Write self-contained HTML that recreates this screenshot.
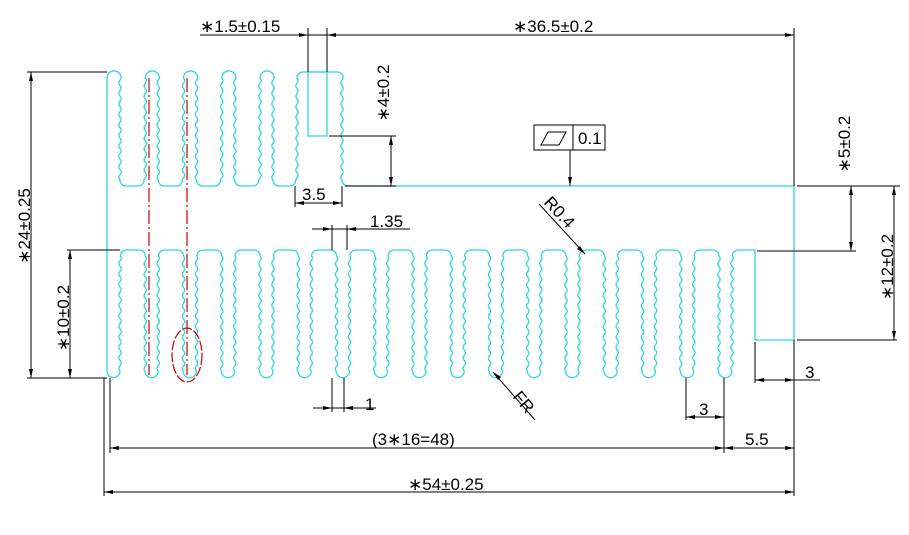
<!DOCTYPE html>
<html><head><meta charset="utf-8"><style>
html,body{margin:0;padding:0;background:#fff;}
svg{display:block;}
text{font-family:"Liberation Sans","DejaVu Sans",sans-serif;font-size:17px;fill:#000;}
</style></head><body>
<svg id="s" width="909" height="535" viewBox="0 0 909 535" xmlns="http://www.w3.org/2000/svg">
<g id="cy" fill="none" stroke="#2fd8d8" stroke-width="1.3"></g>
<g stroke="#c00" stroke-width="1.2" fill="none" stroke-dasharray="14,3,2,3">
<line x1="149" y1="78" x2="149" y2="375"/>
<line x1="187" y1="78" x2="187" y2="375"/>
</g>
<ellipse cx="187" cy="355" rx="15" ry="27" fill="none" stroke="#c00" stroke-width="1.2" stroke-dasharray="10,2"/>
<g stroke="#000" stroke-width="1" fill="none">
<line x1="200" y1="35" x2="794" y2="35"/>
<line x1="308" y1="28" x2="308" y2="72"/>
<line x1="327" y1="28" x2="327" y2="72"/>
<line x1="794" y1="28" x2="794" y2="186"/>
<line x1="329" y1="136" x2="396" y2="136"/>
<line x1="345" y1="186" x2="396" y2="186"/>
<line x1="391" y1="136" x2="391" y2="186"/>
<line x1="295" y1="186" x2="295" y2="207"/>
<line x1="342" y1="186" x2="342" y2="207"/>
<line x1="295" y1="203" x2="342" y2="203"/>
<rect x="534" y="125" width="71" height="25"/>
<line x1="573" y1="125" x2="573" y2="150"/>
<polygon points="541,145 548,132 566,132 559,145"/>
<line x1="570" y1="150" x2="570" y2="186"/>
<line x1="539" y1="204" x2="585" y2="254"/>
<line x1="332" y1="225" x2="332" y2="250"/>
<line x1="347" y1="225" x2="347" y2="250"/>
<line x1="312" y1="229" x2="410" y2="229"/>
<line x1="27" y1="72" x2="107" y2="72"/>
<line x1="27" y1="378" x2="107" y2="378"/>
<line x1="31" y1="72" x2="31" y2="378"/>
<line x1="67" y1="250" x2="120" y2="250"/>
<line x1="70" y1="250" x2="70" y2="378"/>
<line x1="332" y1="378" x2="332" y2="412"/>
<line x1="344" y1="378" x2="344" y2="412"/>
<line x1="313" y1="408" x2="376" y2="408"/>
<line x1="493" y1="372" x2="535" y2="420"/>
<line x1="686" y1="378" x2="686" y2="420"/>
<line x1="724" y1="378" x2="724" y2="453"/>
<line x1="686" y1="417" x2="724" y2="417"/>
<line x1="755" y1="342" x2="755" y2="383"/>
<line x1="755" y1="380" x2="820" y2="380"/>
<line x1="794" y1="340" x2="794" y2="496"/>
<line x1="110" y1="378" x2="110" y2="453"/>
<line x1="104" y1="378" x2="104" y2="496"/>
<line x1="110" y1="448" x2="794" y2="448"/>
<line x1="104" y1="492" x2="794" y2="492"/>
<line x1="797" y1="186" x2="900" y2="186"/>
<line x1="757" y1="251" x2="856" y2="251"/>
<line x1="797" y1="340" x2="897" y2="340"/>
<line x1="851" y1="186" x2="851" y2="251"/>
<line x1="894" y1="186" x2="894" y2="340"/>
</g>
<g fill="#000">
<polygon points="308,35 299,33 299,37"/><polygon points="327,35 336,33 336,37"/>
<polygon points="794,35 785,33 785,37"/>
<polygon points="391,136 389,145 393,145"/><polygon points="391,186 389,177 393,177"/>
<polygon points="295,203 304,201 304,205"/><polygon points="342,203 333,201 333,205"/>
<polygon points="570,186 568,177 572,177"/>
<polygon points="585,254 577,249 580,246"/>
<polygon points="332,229 323,227 323,231"/><polygon points="347,229 356,227 356,231"/>
<polygon points="31,72 29,81 33,81"/><polygon points="31,378 29,369 33,369"/>
<polygon points="70,250 68,259 72,259"/><polygon points="70,378 68,369 72,369"/>
<polygon points="332,408 323,406 323,410"/><polygon points="344,408 353,406 353,410"/>
<polygon points="493,372 501,377 498,380"/>
<polygon points="686,417 695,415 695,419"/><polygon points="724,417 715,415 715,419"/>
<polygon points="794,380 785,378 785,382"/><polygon points="755,380 764,378 764,382"/>
<polygon points="110,448 119,446 119,450"/><polygon points="724,448 715,446 715,450"/>
<polygon points="724,448 733,446 733,450"/><polygon points="794,448 785,446 785,450"/>
<polygon points="104,492 113,490 113,494"/><polygon points="794,492 785,490 785,494"/>
<polygon points="851,186 849,195 853,195"/><polygon points="851,251 849,242 853,242"/>
<polygon points="894,186 892,195 896,195"/><polygon points="894,340 892,331 896,331"/>
</g>
<text x="200" y="32">∗1.5±0.15</text>
<text x="513" y="32">∗36.5±0.2</text>
<text transform="translate(389,93) rotate(-90)" text-anchor="middle">∗4±0.2</text>
<text x="302" y="200">3.5</text>
<text x="578" y="144">0.1</text>
<text transform="translate(543,203) rotate(47)">R0.4</text>
<text x="370" y="227">1.35</text>
<text transform="translate(30,226) rotate(-90)" text-anchor="middle">∗24±0.25</text>
<text transform="translate(69,318) rotate(-90)" text-anchor="middle">∗10±0.2</text>
<text x="365" y="410">1</text>
<text transform="translate(512,397) rotate(50)">FR</text>
<text x="699" y="415">3</text>
<text x="805" y="378">3</text>
<text x="372" y="445">(3∗16=48)</text>
<text x="745" y="445">5.5</text>
<text x="408" y="490">∗54±0.25</text>
<text transform="translate(850,144) rotate(-90)" text-anchor="middle">∗5±0.2</text>
<text transform="translate(893,267) rotate(-90)" text-anchor="middle">∗12±0.2</text>
</svg>
<script>
(function(){
var A=1.2,P=10.5;
function wave(x,y1,y2){var s="",d=y2>y1?1:-1;for(var y=y1+d;d>0?y<=y2:y>=y2;y+=d){s+=" L"+(x+A*Math.sin(2*Math.PI*(y-y1)/P)).toFixed(2)+","+y;}return s;}
var h=6.5,pitch=38.25,c0=113.5;
var p="M107,371 A6.5,6.5 0 0 0 120,371"+wave(120,371,256)+" A6,6 0 0 1 126,250";
for(var i=1;i<=16;i++){var c=c0+pitch*i;
p+=" L"+(c-h-6)+",250 A6,6 0 0 1 "+(c-h)+",256"+wave(c-h,256,371)+" A6.5,6.5 0 0 0 "+(c+h)+",371"+wave(c+h,371,256);
if(i<16){p+=" A6,6 0 0 1 "+(c+h+6)+",250";}
}
var lr=c0+pitch*16+h;
p+=" A6,6 0 0 1 "+(lr+6)+",250 L755,250 L755,340 L794,340 L794,186 L348,186 A6,6 0 0 1 342,180"+wave(342,180,78)+" A6,6 0 0 0 336,72 L303,72 A6,6 0 0 0 297,78"+wave(297,78,180)+" A6,6 0 0 1 291,186";
for(var j=4;j>=0;j--){var c=c0+pitch*j;
p+=" L"+(c+h+6)+",186 A6,6 0 0 1 "+(c+h)+",180"+wave(c+h,180,78)+" A6.5,6.5 0 0 0 "+(c-h)+",78";
if(j>0){p+=wave(c-h,78,180)+" A6,6 0 0 1 "+(c-h-6)+",186";}
}
p+=" L107,78 Z";
var g=document.getElementById("cy");var ns="http://www.w3.org/2000/svg";
var e=document.createElementNS(ns,"path");e.setAttribute("d",p);g.appendChild(e);
var r=document.createElementNS(ns,"rect");r.setAttribute("x","308");r.setAttribute("y","72");r.setAttribute("width","19");r.setAttribute("height","64");g.appendChild(r);
})();
</script>
</body></html>
